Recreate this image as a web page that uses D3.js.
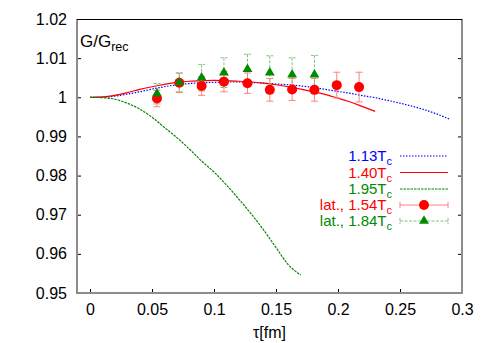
<!DOCTYPE html>
<html>
<head>
<meta charset="utf-8">
<script src="https://cdn.jsdelivr.net/npm/d3@7"></script>
<style>
  body { margin: 0; background: #fff; }
  svg { font-family: "Liberation Sans", Arial, sans-serif; }
  .axis text { font-size: 16px; fill: #000; }
  .axis line { stroke: #000; }
</style>
</head>
<body>
<svg width="491" height="343"></svg>
<script>
// tick labels
var xTicks = [0, 0.05, 0.1, 0.15, 0.2, 0.25, 0.3],
    xTickLabels = ["0", "0.05", "0.1", "0.15", "0.2", "0.25", "0.3"];
var yTicks = [0.95, 0.96, 0.97, 0.98, 0.99, 1, 1.01, 1.02],
    yTickLabels = ["0.95", "0.96", "0.97", "0.98", "0.99", "1", "1.01", "1.02"];

// model curves, tau in fm
var curveTau = [0, 0.01, 0.02, 0.03, 0.04, 0.05, 0.06, 0.07, 0.08, 0.09,
                0.10, 0.11, 0.12, 0.13, 0.14, 0.15, 0.16, 0.17, 0.18, 0.19,
                0.20, 0.21, 0.22, 0.23, 0.24, 0.25, 0.26, 0.27, 0.28, 0.29];
var g113 = [1, 1.0000, 1.0003, 1.0008, 1.0014, 1.0021, 1.0027, 1.0032, 1.0035, 1.0037,
            1.0038, 1.0039, 1.0039, 1.0038, 1.0036, 1.0034, 1.0032, 1.0029, 1.0025, 1.0020,
            1.0015, 1.0010, 1.0004, 0.9999, 0.9992, 0.9985, 0.9977, 0.9968, 0.9957, 0.9944];
var g140 = [1, 1.0001, 1.0005, 1.0012, 1.0020, 1.0027, 1.0033, 1.0038, 1.0041, 1.0042,
            1.0043, 1.0042, 1.0041, 1.0039, 1.0036, 1.0032, 1.0027, 1.0021, 1.0014, 1.0007,
            0.9998, 0.9988, 0.9976, 0.9964];
var g195 = [1, 0.9999, 0.9995, 0.9985, 0.9970, 0.9949, 0.9923, 0.9897, 0.9868, 0.9837,
            0.9809, 0.9776, 0.9740, 0.9702, 0.9661, 0.9616, 0.9572, 0.9546];

// lattice points
var latTau = [0.054, 0.072, 0.090, 0.108, 0.127, 0.145, 0.163, 0.181, 0.199, 0.217];
var lat154 = [0.9997, 1.0037, 1.0029, 1.0040, 1.0036, 1.0019, 1.0020, 1.0019, 1.0031, 1.0026];
var lat154Err = [0.0021, 0.0025, 0.0024, 0.0026, 0.0026, 0.0029, 0.0028, 0.0029, 0.0033, 0.0038];
var lat184 = [1.0009, 1.0038, 1.0050, 1.0063, 1.0072, 1.0063, 1.0058, 1.0058];
var lat184Err = [0.0026, 0.0024, 0.0034, 0.0038, 0.0038, 0.0043, 0.0043, 0.0049];

var legendNames = ["1.13", "1.40", "1.95", "lat., 1.54", "lat., 1.84"];

var red = "#ff0000", green = "#008a00", blue = "#0000ff";

var svg = d3.select("svg"),
    margin = {top: 19, right: 29, bottom: 50, left: 77},
    width = +svg.attr("width") - margin.left - margin.right,
    height = +svg.attr("height") - margin.top - margin.bottom;

var x = d3.scaleLinear().domain([-0.0105, 0.3]).range([0, width]),
    y = d3.scaleLinear().domain([0.95, 1.02]).range([height, 0]);

var g = svg.append("g")
    .attr("transform", "translate(" + margin.left + "," + margin.top + ")");

// axes with inward ticks
g.append("g")
    .attr("class", "axis")
    .attr("transform", "translate(0," + height + ")")
    .call(d3.axisBottom(x).tickValues(xTicks).tickSizeInner(-4).tickSizeOuter(0).tickPadding(11)
        .tickFormat(function(d, i){ return xTickLabels[i]; }));

g.append("g")
    .attr("class", "axis")
    .call(d3.axisLeft(y).tickValues(yTicks).tickSizeInner(-4).tickSizeOuter(0).tickPadding(10)
        .tickFormat(function(d, i){ return yTickLabels[i]; }));

g.append("g")
    .attr("class", "axis")
    .attr("transform", "translate(" + width + ",0)")
    .call(d3.axisRight(y).tickValues(yTicks).tickSizeInner(-4).tickSizeOuter(0).tickFormat(""));

g.selectAll(".axis .domain").remove();

// frame: grey left/bottom/right, black top
g.append("path")
    .attr("d", "M0,0V" + height + "H" + width + "V0")
    .attr("fill", "none")
    .attr("stroke", "#8c8c8c")
    .attr("stroke-width", 2);
g.append("line")
    .attr("x1", 0).attr("x2", width)
    .attr("y1", 0.5).attr("y2", 0.5)
    .attr("stroke", "#000");

// axis title
svg.append("text")
    .attr("x", margin.left + width / 2)
    .attr("y", 338)
    .attr("text-anchor", "middle")
    .attr("font-size", 16)
    .text("τ[fm]");

var title = g.append("text")
    .attr("x", 3)
    .attr("y", 28)
    .attr("font-size", 17);
title.append("tspan").text("G/G");
title.append("tspan").attr("font-size", 12.5).attr("dy", 4).text("rec");

// curves
var line = d3.line()
    .x(function(d){ return x(d[0]); })
    .y(function(d){ return y(d[1]); })
    .curve(d3.curveMonotoneX);

function pairs(vals) {
    return vals.map(function(v, i){ return [curveTau[i], v]; });
}

g.append("path").datum(pairs(g113))
    .attr("d", line).attr("fill", "none")
    .attr("stroke", blue).attr("stroke-width", 1.2).attr("stroke-dasharray", "1.5,1.5");

g.append("path").datum(pairs(g140))
    .attr("d", line).attr("fill", "none")
    .attr("stroke", red).attr("stroke-width", 1.2);

g.append("path").datum(pairs(g195))
    .attr("d", line).attr("fill", "none")
    .attr("stroke", green).attr("stroke-width", 1.2).attr("stroke-dasharray", "2.5,1");

// lattice points with error bars
function errBars(vals, errs, color, dash) {
    var d = vals.map(function(v, i){ return {t: latTau[i], v: v, e: errs[i]}; });
    var eg = g.append("g")
        .attr("stroke", color).attr("stroke-width", 1).attr("fill", "none");
    if (dash) eg.attr("stroke-dasharray", dash);
    eg.selectAll(".eb").data(d).enter().append("path")
        .attr("d", function(p){
            var px = x(p.t), y1 = y(p.v + p.e), y2 = y(p.v - p.e);
            return "M" + px + "," + y1 + "V" + y2 +
                   "M" + (px - 3.5) + "," + y1 + "H" + (px + 3.5) +
                   "M" + (px - 3.5) + "," + y2 + "H" + (px + 3.5);
        });
    return d;
}

var redPts = errBars(lat154, lat154Err, "#ff8080");
var greenPts = errBars(lat184, lat184Err, "#7fc47f", "3,1.5");

g.selectAll(".redpt").data(redPts).enter().append("circle")
    .attr("cx", function(p){ return x(p.t); })
    .attr("cy", function(p){ return y(p.v); })
    .attr("r", 5)
    .attr("fill", red);

var tri = d3.symbol().type(d3.symbolTriangle).size(42);
g.selectAll(".greenpt").data(greenPts).enter().append("path")
    .attr("transform", function(p){ return "translate(" + x(p.t) + "," + y(p.v) + ")"; })
    .attr("d", tri)
    .attr("fill", green);

// legend
var legendColors = [blue, red, green, red, green];
var legendY = [156, 172.5, 189, 205, 221];
var lx1 = 400 - margin.left, lx2 = 448 - margin.left, ltx = 392 - margin.left;

legendNames.forEach(function(name, i){
    var ly = legendY[i] - margin.top;
    var t = g.append("text")
        .attr("x", ltx).attr("y", ly + 5)
        .attr("text-anchor", "end")
        .attr("font-size", 15)
        .attr("fill", legendColors[i]);
    t.append("tspan").text(name + "T");
    t.append("tspan").attr("font-size", 11).attr("dy", 4).text("c");

    if (i === 0) {
        g.append("line").attr("x1", lx1).attr("x2", lx2).attr("y1", ly).attr("y2", ly)
            .attr("stroke", blue).attr("stroke-width", 1.2).attr("stroke-dasharray", "1.5,1.5");
    } else if (i === 1) {
        g.append("line").attr("x1", lx1).attr("x2", lx2).attr("y1", ly).attr("y2", ly)
            .attr("stroke", red).attr("stroke-width", 1.2);
    } else if (i === 2) {
        g.append("line").attr("x1", lx1).attr("x2", lx2).attr("y1", ly).attr("y2", ly)
            .attr("stroke", green).attr("stroke-width", 1.2).attr("stroke-dasharray", "2.5,1");
    } else {
        var c = i === 3 ? "#ff8080" : "#7fc47f";
        var sample = g.append("path")
            .attr("d", "M" + lx1 + "," + ly + "H" + lx2 +
                       "M" + lx1 + "," + (ly - 3) + "V" + (ly + 3) +
                       "M" + lx2 + "," + (ly - 3) + "V" + (ly + 3))
            .attr("stroke", c).attr("fill", "none");
        if (i === 4) sample.attr("stroke-dasharray", "3,1.5");
        if (i === 3) {
            g.append("circle").attr("cx", (lx1 + lx2) / 2).attr("cy", ly).attr("r", 5).attr("fill", red);
        } else {
            g.append("path").attr("transform", "translate(" + (lx1 + lx2) / 2 + "," + ly + ")")
                .attr("d", tri).attr("fill", green);
        }
    }
});
</script>
</body>
</html>
